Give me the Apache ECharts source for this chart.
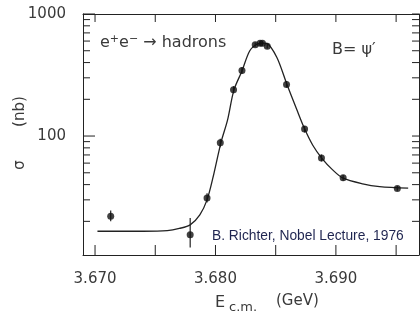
<!DOCTYPE html>
<html>
<head>
<meta charset="utf-8">
<script src="https://cdn.jsdelivr.net/npm/echarts@6/dist/echarts.min.js"></script>
<style>
  html, body { margin:0; padding:0; background:#fff; }
  #chart { width:420px; height:313px; }
</style>
</head>
<body>
<div id="chart"></div>
<script>
// === Datos ===
// puntos medidos (E en GeV, sigma en nb) + barras de error
const ptE     = [3.6713, 3.6779, 3.6793, 3.6804, 3.6815, 3.6822, 3.6833, 3.6837, 3.6839, 3.6843, 3.6859, 3.6874, 3.6888, 3.6906, 3.6951];
const ptSigma = [22, 15.5, 31, 88, 240, 345, 560, 575, 575, 545, 265, 114, 66, 45.5, 37.2];
const errLo   = [20, 12.2, 28.5, 81, 224, 324, 538, 552, 552, 522, 250, 107, 62, 43, 35.6];
const errHi   = [24.5, 21.3, 34, 95, 256, 366, 584, 598, 598, 568, 282, 121, 70.5, 48, 39];

// curva ajustada
const curveE = [3.6702, 3.6740, 3.6760, 3.6770, 3.6779, 3.6787, 3.6793, 3.6798, 3.68045, 3.6810, 3.68153, 3.6822, 3.68285,
                3.68352, 3.6840, 3.68426, 3.6851, 3.68592, 3.68675, 3.68741, 3.68808, 3.68882, 3.68973, 3.69056, 3.69222, 3.69363, 3.6960];
const curveS = [16.6, 16.6, 16.8, 17.5, 18.7, 22.6, 30, 46, 88, 135, 238, 341, 500,
                570, 578, 575, 440, 267, 165, 114, 84, 66, 52.8, 45.4, 40.6, 38.5, 37.4];

// ticks
const xTicks  = [3.670, 3.675, 3.680, 3.685, 3.690, 3.695];
const xLabels = [3.670, 3.680, 3.690];
const yMajor  = [100, 1000];
const yMinor  = [20, 30, 40, 50, 60, 70, 80, 90, 200, 300, 400, 500, 600, 700, 800, 900];

// === Estilo ===
const ink = '#222', txt = '#3a3a3a';
const font = 'DejaVu Sans';
const X_MIN = 3.669, X_MAX = 3.6969, Y_MIN = 10.6, Y_MAX = 1000;

// ticks hacia adentro dibujados con la escala de la librería (custom)
function tickLines(vals, axis){
  return {
    type:'custom', xAxisIndex:0, yAxisIndex:0, silent:true, clip:false, z:5,
    data: vals.map(v => axis==='x' ? [v, Y_MIN] : [X_MIN, v]),
    renderItem:(params, api)=>{
      const cs = params.coordSys;
      const p = api.coord([api.value(0), api.value(1)]);
      const st = { stroke:ink, lineWidth:1 };
      if(axis==='x'){
        const b = cs.y + cs.height;
        return { type:'group', children:[
          { type:'line', shape:{ x1:p[0], y1:b, x2:p[0], y2:b-10 }, style:st },
          { type:'line', shape:{ x1:p[0], y1:cs.y, x2:p[0], y2:cs.y+8 }, style:st }
        ]};
      }
      const major = yMajor.includes(api.value(1));
      const r = cs.x + cs.width;
      return { type:'group', children:[
        { type:'line', shape:{ x1:cs.x, y1:p[1], x2:cs.x+(major?12:7), y2:p[1] }, style:st },
        { type:'line', shape:{ x1:r, y1:p[1], x2:r-7, y2:p[1] }, style:st }
      ]};
    }
  };
}

const option = {
  animation:false,
  grid:{ left:83, right:1, top:14, bottom:58, containLabel:false },
  xAxis:[
    { type:'value', position:'bottom', min:X_MIN, max:X_MAX,
      axisLine:{ lineStyle:{ color:ink, width:1 } }, axisTick:{ show:false },
      axisLabel:{ customValues:xLabels, margin:17, color:txt, fontFamily:font, fontSize:15, formatter:v=>v.toFixed(3) },
      splitLine:{ show:false } },
    { type:'value', position:'top', min:X_MIN, max:X_MAX,
      axisLine:{ lineStyle:{ color:ink, width:1 } }, axisTick:{ show:false }, axisLabel:{ show:false },
      splitLine:{ show:false } }
  ],
  yAxis:[
    { type:'log', logBase:10, position:'left', min:Y_MIN, max:Y_MAX,
      axisLine:{ lineStyle:{ color:ink, width:1 } }, axisTick:{ show:false },
      axisLabel:{ customValues:yMajor, margin:17, color:txt, fontFamily:font, fontSize:15, formatter:v=>String(v) },
      splitLine:{ show:false } },
    { type:'log', logBase:10, position:'right', min:Y_MIN, max:Y_MAX,
      axisLine:{ show:true, lineStyle:{ color:ink, width:1 } }, axisTick:{ show:false }, axisLabel:{ show:false },
      splitLine:{ show:false } }
  ],
  series:[
    { type:'line', xAxisIndex:0, yAxisIndex:0, smooth:0.3, symbol:'none',
      lineStyle:{ color:ink, width:1.3 }, data:curveE.map((e,i)=>[e, curveS[i]]), z:2 },
    { type:'custom', xAxisIndex:0, yAxisIndex:0, z:3,
      data:ptE.map((e,i)=>[e, errLo[i], errHi[i]]),
      renderItem:(params, api)=>{
        const lo = api.coord([api.value(0), api.value(1)]);
        const hi = api.coord([api.value(0), api.value(2)]);
        return { type:'line', shape:{ x1:lo[0], y1:lo[1], x2:hi[0], y2:hi[1] },
          style:{ stroke:ink, lineWidth:1.2 } };
      } },
    { type:'scatter', xAxisIndex:0, yAxisIndex:0, symbol:'circle', symbolSize:7, z:4,
      itemStyle:{ color:'#111' }, data:ptE.map((e,i)=>[e, ptSigma[i]]) },
    tickLines(xTicks, 'x'),
    tickLines(yMajor.concat(yMinor), 'y')
  ],
  graphic:[
    { type:'text', x:20, y:133, rotation:Math.PI/2,
      style:{ text:'σ       (nb)', align:'center', verticalAlign:'middle', fill:txt, font:`15px "${font}"` } },
    { type:'text', x:100, y:43,
      style:{ text:'e{sup|+}e{sup|−} → hadrons', verticalAlign:'middle', fill:txt, font:`16px "${font}"`,
        rich:{ sup:{ fontSize:11, verticalAlign:'top', padding:[0,0,8,0], fill:txt, fontFamily:font } } } },
    { type:'text', x:332, y:50,
      style:{ text:'B= ψ\u2032', verticalAlign:'middle', fill:txt, font:`16px "${font}"` } },
    { type:'text', x:212, y:236,
      style:{ text:'B. Richter, Nobel Lecture, 1976', verticalAlign:'middle', fill:'#1f2550', font:'13.8px "Liberation Sans"' } },
    { type:'text', x:215, y:303,
      style:{ text:'E', verticalAlign:'middle', fill:txt, font:`16px "${font}"` } },
    { type:'text', x:229, y:308,
      style:{ text:'c.m.', verticalAlign:'middle', fill:txt, font:`13px "${font}"` } },
    { type:'text', x:276, y:301,
      style:{ text:'(GeV)', verticalAlign:'middle', fill:txt, font:`15px "${font}"` } }
  ]
};

const chart = echarts.init(document.getElementById('chart'));
chart.setOption(option);
</script>
</body>
</html>
